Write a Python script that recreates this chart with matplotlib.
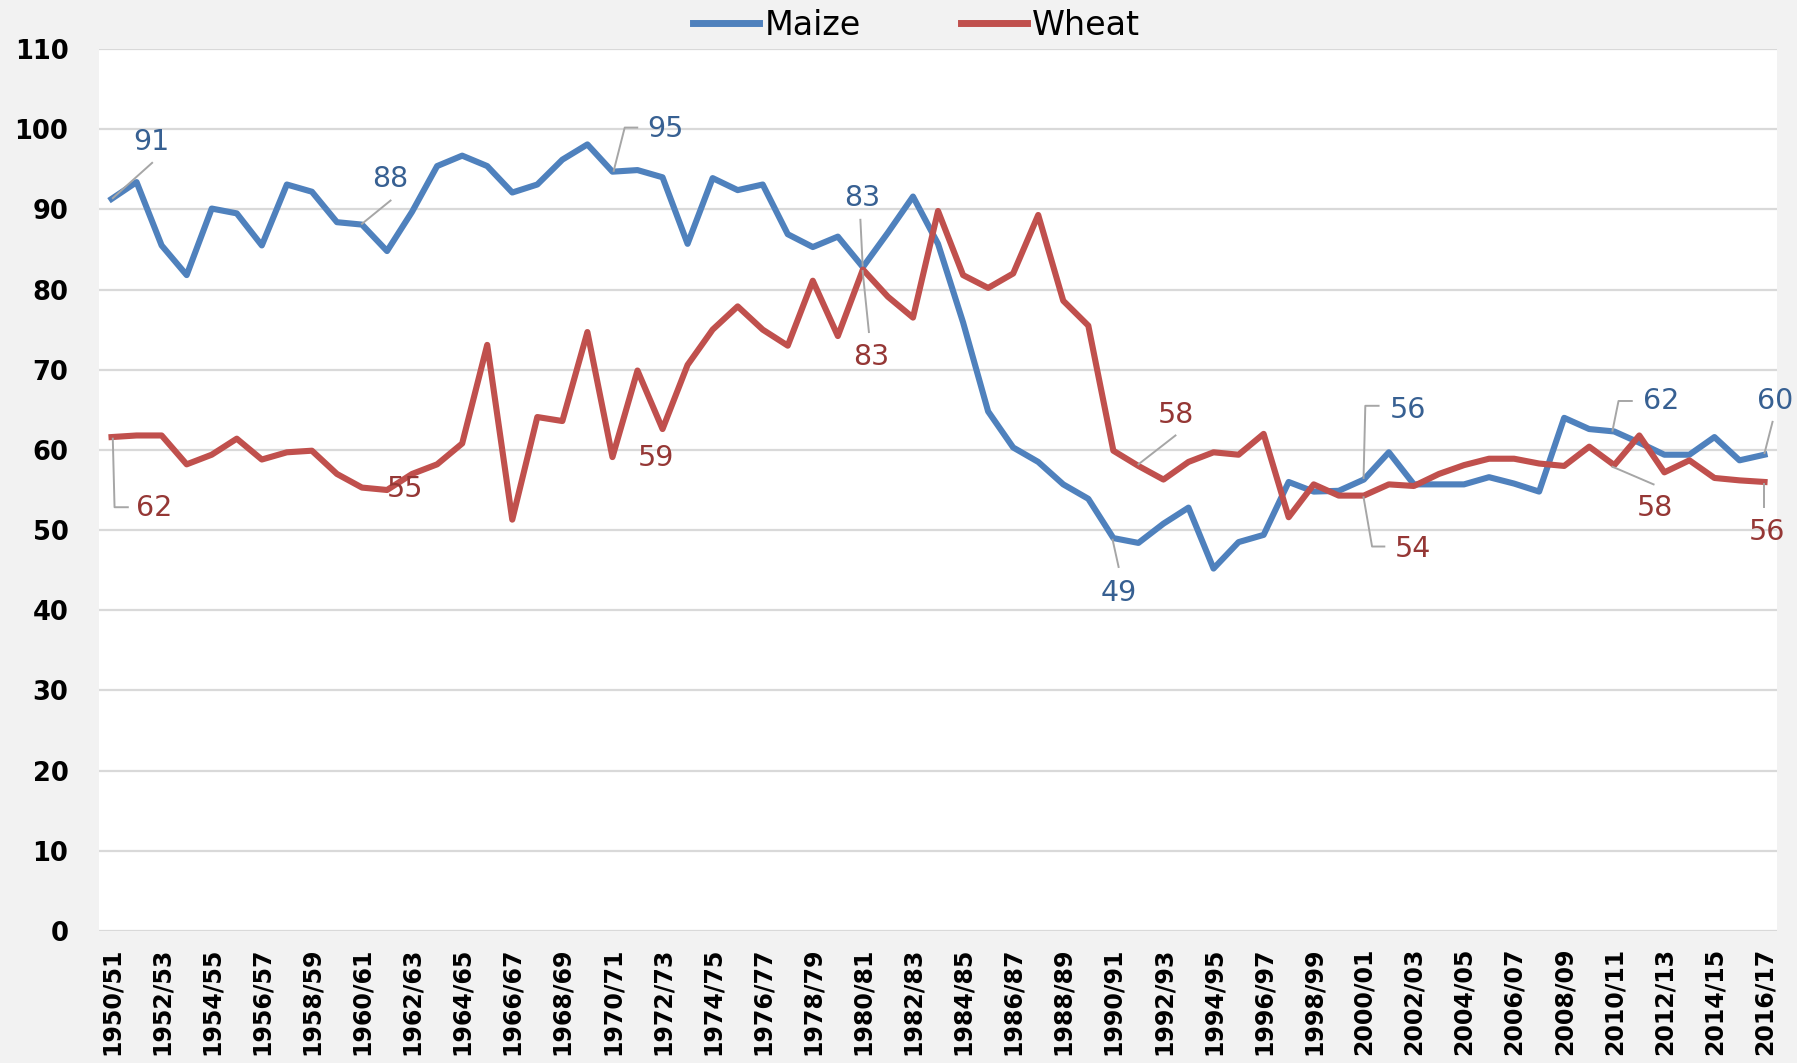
import matplotlib
matplotlib.use("Agg")
import matplotlib.pyplot as plt
import numpy as np

# seasons 1950/51 .. 2016/17
seasons = [f"{y}/{str(y + 1)[-2:]}" for y in range(1950, 2017)]

maize = [91.3, 93.4, 85.5, 81.8, 90.1, 89.5, 85.5, 93.1, 92.2, 88.4,
         88.1, 84.8, 89.7, 95.4, 96.7, 95.4, 92.1, 93.1, 96.2, 98.1,
         94.7, 94.9, 94.0, 85.7, 93.9, 92.4, 93.1, 86.9, 85.3, 86.6,
         82.8, 87.1, 91.6, 85.7, 75.9, 64.8, 60.3, 58.5, 55.7, 53.9,
         49.0, 48.4, 50.8, 52.8, 45.2, 48.5, 49.4, 56.0, 54.8, 54.9,
         56.3, 59.7, 55.7, 55.7, 55.7, 56.6, 55.8, 54.8, 64.0, 62.6,
         62.3, 60.9, 59.4, 59.4, 61.6, 58.7, 59.4]

wheat = [61.6, 61.8, 61.8, 58.2, 59.4, 61.4, 58.8, 59.7, 59.9, 57.0,
         55.3, 55.0, 57.0, 58.2, 60.8, 73.1, 51.3, 64.1, 63.6, 74.7,
         59.1, 69.9, 62.6, 70.6, 75.0, 77.9, 75.0, 73.0, 81.1, 74.2,
         82.5, 79.1, 76.5, 89.8, 81.8, 80.2, 82.0, 89.3, 78.6, 75.5,
         59.9, 58.0, 56.3, 58.5, 59.7, 59.4, 62.0, 51.6, 55.7, 54.3,
         54.3, 55.7, 55.5, 57.0, 58.1, 58.9, 58.9, 58.3, 58.0, 60.4,
         58.1, 61.8, 57.2, 58.7, 56.5, 56.2, 56.0]

# data labels: (point index, text, label centre x, label centre y, leader polyline)
maize_labels = [
    (0, "91", 1.58, 98.4, [(0.05, 91.4), (1.62, 95.8)]),
    (10, "88", 11.14, 93.8, [(10.0, 88.2), (11.14, 91.1)]),
    (20, "95", 22.1, 100.0, [(20.05, 94.8), (20.49, 100.2), (20.99, 100.2)]),
    (30, "83", 29.97, 91.4, [(29.99, 83.0), (29.9, 88.7)]),
    (40, "49", 40.21, 42.2, [(39.97, 48.8), (40.21, 45.4)]),
    (50, "56", 51.75, 65.0, [(49.99, 56.5), (50.06, 65.5), (50.59, 65.5)]),
    (60, "62", 61.86, 66.1, [(59.93, 62.4), (60.17, 66.1), (60.7, 66.1)]),
    (66, "60", 66.43, 66.1, [(66.0, 59.6), (66.32, 63.5)]),
]
wheat_labels = [
    (0, "62", 1.72, 52.7, [(0.05, 61.4), (0.12, 52.85), (0.65, 52.85)]),
    (11, "55", 11.7, 55.1, []),
    (20, "59", 21.74, 59.0, []),
    (30, "83", 30.33, 71.6, [(29.99, 82.3), (30.24, 74.7)]),
    (41, "58", 42.5, 64.4, [(41.0, 58.2), (42.48, 61.8)]),
    (50, "54", 51.98, 47.6, [(49.99, 54.1), (50.33, 47.95), (50.82, 47.95)]),
    (60, "58", 61.64, 52.8, [(59.93, 57.9), (61.57, 55.7)]),
    (66, "56", 66.08, 49.7, [(65.97, 55.8), (65.97, 52.85)]),
]

maize_col = "#4f81bd"
wheat_col = "#c0504d"
maize_txt = "#376092"
wheat_txt = "#953735"
leader_col = "#a6a6a6"

fig = plt.figure(figsize=(17.97, 10.63), dpi=100, facecolor="#f2f2f2")
ax = fig.add_axes([0.0551, 0.1242, 0.9338, 0.8297])
ax.set_facecolor("white")

x = np.arange(len(seasons))
ax.plot(x, maize, color=maize_col, lw=4.4, label="Maize", solid_joinstyle="round", zorder=3)
ax.plot(x, wheat, color=wheat_col, lw=4.4, label="Wheat", solid_joinstyle="round", zorder=3)

# data labels with leader lines
for labels, col in [(maize_labels, maize_txt), (wheat_labels, wheat_txt)]:
    for idx, txt, lx, ly, leader in labels:
        if leader:
            lxs, lys = zip(*leader)
            ax.plot(lxs, lys, color=leader_col, lw=1.4, zorder=4)
        ax.text(lx, ly, txt, color=col, fontsize=20.5, ha="center", va="center", zorder=5)

ax.set_xlim(-0.5, len(seasons) - 0.5)
ax.set_ylim(0, 110)
ax.set_yticks(range(0, 111, 10))
ax.set_xticks(x[::2])
ax.set_xticklabels(seasons[::2], rotation=90, fontsize=17, fontweight="bold")
ax.tick_params(axis="y", labelsize=18.5, length=0, pad=22)
ax.tick_params(axis="x", length=0, pad=12)
for lab in ax.get_yticklabels():
    lab.set_fontweight("bold")

ax.grid(axis="y", color="#d9d9d9", lw=1.6)
ax.set_axisbelow(True)
for s in ax.spines.values():
    s.set_visible(False)

leg = fig.legend(loc="upper center", bbox_to_anchor=(0.51, 1.02), ncol=2, frameon=False,
                 fontsize=24, handlelength=2.0, handletextpad=0.15, columnspacing=3.0)
for h in leg.get_lines():
    h.set_linewidth(5)

fig.savefig("out.png", dpi=100, facecolor=fig.get_facecolor())
